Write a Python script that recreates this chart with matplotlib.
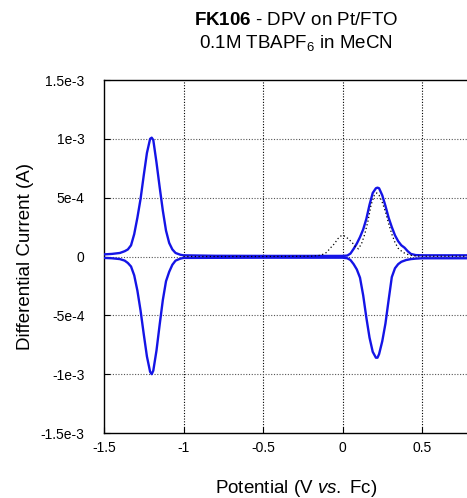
import matplotlib
matplotlib.use("Agg")
import matplotlib.pyplot as plt

plt.rcParams['font.family'] = ['Liberation Sans', 'DejaVu Sans']
plt.rcParams['mathtext.fontset'] = 'custom'
plt.rcParams['mathtext.rm'] = 'Liberation Sans'
plt.rcParams['mathtext.it'] = 'Liberation Sans:italic'
plt.rcParams['mathtext.bf'] = 'Liberation Sans:bold'

# ---- data ----
fwd_v = [-1.50, -1.45, -1.40, -1.37, -1.35, -1.33, -1.31, -1.29, -1.27, -1.25, -1.23, -1.21,
         -1.20, -1.19, -1.17, -1.15, -1.13, -1.11, -1.09, -1.07, -1.05, -1.02, -1.00, -0.80,
         -0.50, -0.20, 0.00, 0.03, 0.05, 0.07, 0.09, 0.11, 0.13, 0.15, 0.17, 0.19, 0.21, 0.22,
         0.23, 0.25, 0.27, 0.29, 0.31, 0.33, 0.35, 0.37, 0.39, 0.41, 0.43, 0.46, 0.50, 0.70, 0.95]
fwd_i = [1.8e-5, 2.2e-5, 3.0e-5, 4.5e-5, 6.0e-5, 9.5e-5, 1.9e-4, 3.3e-4, 4.9e-4, 6.9e-4, 8.8e-4, 1.00e-3,
         1.01e-3, 9.9e-4, 8.0e-4, 5.9e-4, 3.9e-4, 2.2e-4, 1.15e-4, 6.0e-5, 3.0e-5, 1.5e-5, 1.0e-5, 6e-6,
         5e-6, 5e-6, 5e-6, 8e-6, 2.5e-5, 6.5e-5, 1.1e-4, 1.65e-4, 2.3e-4, 3.2e-4, 4.4e-4, 5.4e-4, 5.8e-4, 5.85e-4,
         5.8e-4, 5.2e-4, 4.3e-4, 3.3e-4, 2.5e-4, 1.8e-4, 1.3e-4, 9.5e-5, 7.5e-5, 4.5e-5, 2.2e-5, 1.2e-5, 1.0e-5, 1.0e-5, 1.0e-5]

rev_v = [-1.50, -1.45, -1.40, -1.37, -1.35, -1.33, -1.31, -1.29, -1.27, -1.25, -1.23, -1.21,
         -1.20, -1.19, -1.17, -1.15, -1.13, -1.11, -1.09, -1.07, -1.05, -1.02, -1.00, -0.50,
         0.00, 0.03, 0.05, 0.07, 0.09, 0.11, 0.13, 0.15, 0.17, 0.19, 0.21, 0.22, 0.23, 0.25,
         0.27, 0.29, 0.31, 0.33, 0.35, 0.37, 0.40, 0.43, 0.46, 0.50, 0.95]
rev_i = [-1.2e-5, -1.5e-5, -2.2e-5, -3.5e-5, -5.5e-5, -8.5e-5, -1.6e-4, -2.9e-4, -4.6e-4, -6.6e-4, -8.5e-4, -9.8e-4,
         -1.0e-3, -9.7e-4, -8.0e-4, -5.8e-4, -3.7e-4, -2.1e-4, -1.3e-4, -7e-5, -3.5e-5, -1.8e-5, -1.2e-5, -1e-5,
         -1e-5, -1.5e-5, -3.0e-5, -6.5e-5, -1.1e-4, -1.8e-4, -3.3e-4, -5.2e-4, -6.9e-4, -8.1e-4, -8.6e-4, -8.6e-4, -8.3e-4, -7.2e-4,
         -5.7e-4, -3.7e-4, -1.75e-4, -1.0e-4, -6.5e-5, -4.5e-5, -3.0e-5, -2.2e-5, -1.8e-5, -1.5e-5, -1.5e-5]

fc_v = [-1.00, -0.50, -0.20, -0.15, -0.12, -0.10, -0.075, -0.05, -0.03, -0.01, 0.00, 0.02, 0.04, 0.06,
        0.08, 0.10, 0.12, 0.14, 0.16, 0.18, 0.20, 0.215, 0.23, 0.25, 0.27, 0.29, 0.31, 0.33, 0.35,
        0.38, 0.42, 0.46, 0.50, 0.95]
fc_i = [0.0, 0.0, 2e-6, 8e-6, 2.0e-5, 3.5e-5, 7.4e-5, 1.1e-4, 1.5e-4, 1.75e-4, 1.8e-4, 1.7e-4, 1.45e-4, 1.2e-4,
        8.5e-5, 6.5e-5, 1.1e-4, 1.9e-4, 3.0e-4, 4.4e-4, 5.2e-4, 5.4e-4, 5.2e-4, 4.6e-4, 3.8e-4, 2.8e-4, 1.9e-4, 1.2e-4, 7e-5,
        3.5e-5, 1.2e-5, 4e-6, 2e-6, 2e-6]

x_ticks = [-1.5, -1.0, -0.5, 0.0, 0.5]
x_tick_labels = ['-1.5', '-1', '-0.5', '0', '0.5']
y_ticks = [1.5e-3, 1e-3, 5e-4, 0, -5e-4, -1e-3, -1.5e-3]
y_tick_labels = ['1.5e-3', '1e-3', '5e-4', '0', '-5e-4', '-1e-3', '-1.5e-3']

# ---- figure ----
W, H = 467, 498
fig = plt.figure(figsize=(W / 100, H / 100), dpi=100)
ax_left, ax_right = 104 / W, 488 / W
ax_top, ax_bot = 1 - 80 / H, 1 - 433 / H
ax = fig.add_axes([ax_left, ax_bot, ax_right - ax_left, ax_top - ax_bot])

ax.set_xlim(-1.5, 0.915)
ax.set_ylim(-1.5e-3, 1.5e-3)

blue = '#1414e6'
ax.plot(fwd_v, fwd_i, color=blue, lw=1.7, zorder=3, solid_joinstyle='round')
ax.plot(rev_v, rev_i, color=blue, lw=1.7, zorder=3, solid_joinstyle='round')
ax.plot(fc_v, fc_i, color='black', lw=0.9, ls=(0, (1, 2)), zorder=4)

ax.set_xticks(x_ticks)
ax.set_xticklabels(x_tick_labels)
ax.set_yticks(y_ticks)
ax.set_yticklabels(y_tick_labels)
ax.tick_params(axis='both', direction='in', length=4, width=0.8, labelsize=10)
ax.tick_params(axis='y', pad=14)
ax.tick_params(axis='x', pad=6)

for xv in x_ticks[1:]:
    ax.axvline(xv, color='black', lw=0.8, ls=(0, (1, 1.5)), zorder=1)
for yv in y_ticks[1:-1]:
    ax.axhline(yv, color='#555555', lw=0.8, ls=(0, (1, 1.5)), zorder=1)

for s in ['left', 'bottom', 'top']:
    ax.spines[s].set_linewidth(1.0)
ax.spines['right'].set_visible(False)

ax.set_xlabel(r'Potential (V $\mathit{vs.}$ Fc)', fontsize=13.5, labelpad=16)
ax.set_ylabel('Differential Current (A)', fontsize=13.5, labelpad=5)

cx = 296 / W
fig.text(cx, 1 - 25 / H, r'$\mathbf{FK106}$ - DPV on Pt/FTO', ha='center', va='baseline', fontsize=13.5)
fig.text(cx, 1 - 48 / H, r'0.1M TBAPF$_6$ in MeCN', ha='center', va='baseline', fontsize=13.5)

fig.savefig('out.png', dpi=100)
